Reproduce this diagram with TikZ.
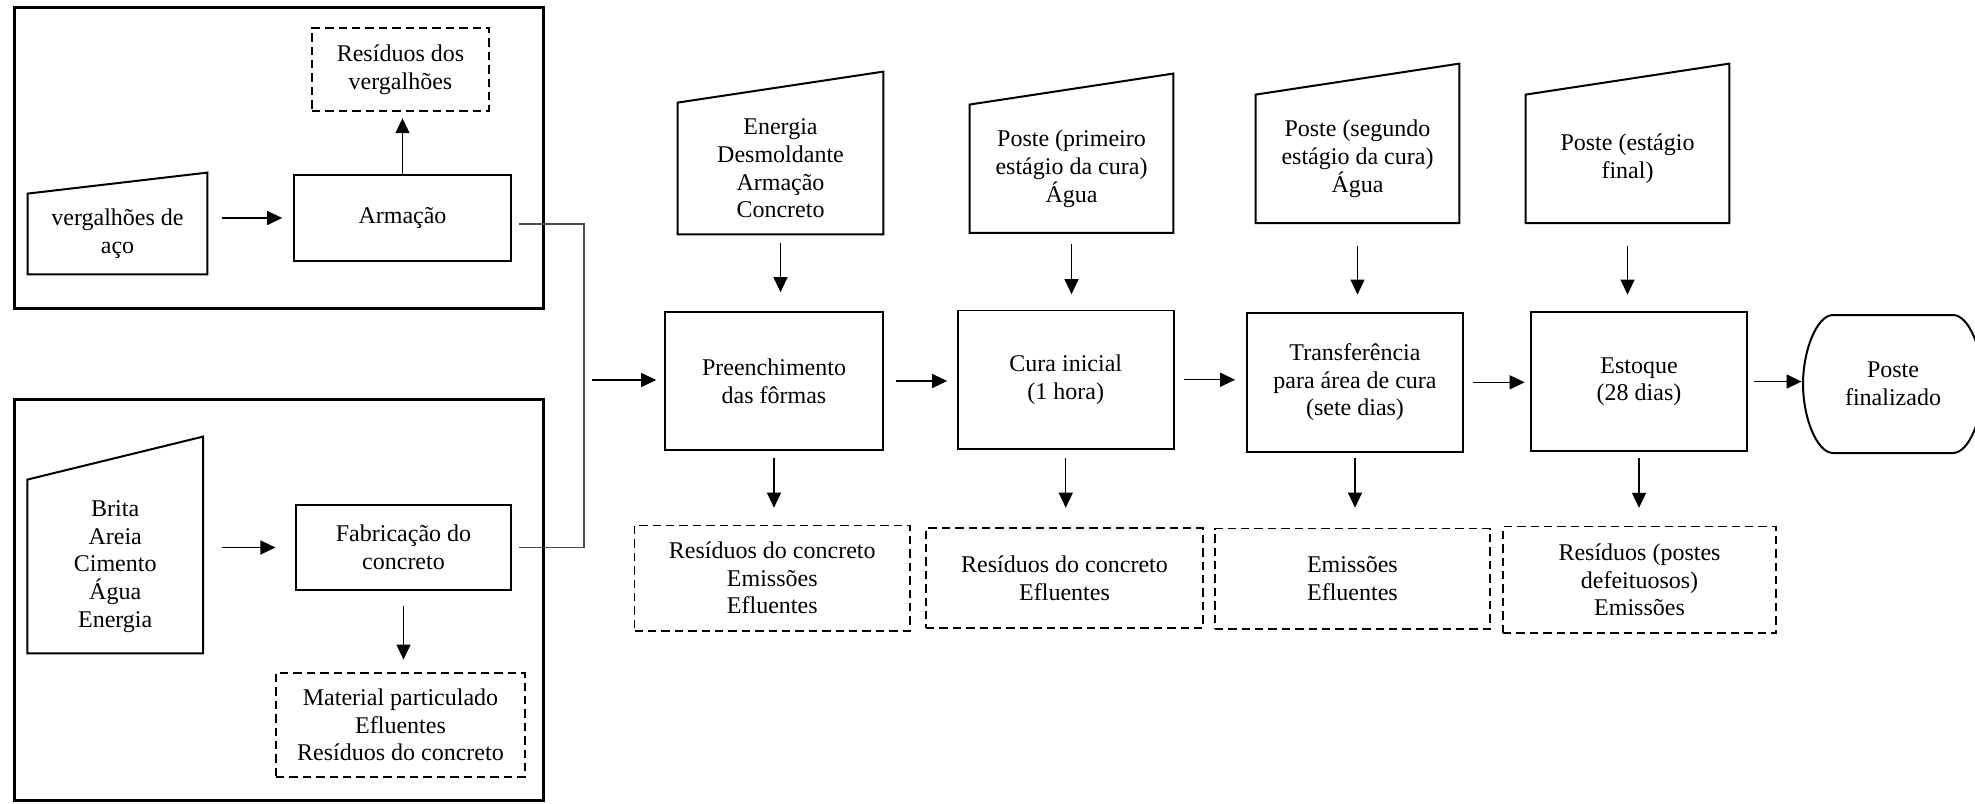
\documentclass[tikz,border=0pt]{standalone}
\usepackage{fontspec}
\setmainfont{Liberation Serif}
\usetikzlibrary{arrows.meta}

\begin{document}
\begin{tikzpicture}[x=0.5pt,y=-0.5pt,line join=miter,>={Triangle[length=7.5pt,width=7pt]},
    texto/.style={font=\fontsize{12}{13.8}\selectfont,align=center,inner sep=0pt},
    processo/.style={texto,draw,line width=0.85pt},
    residuo/.style={texto,draw,line width=0.8pt,dash pattern=on 4.2pt off 2.5pt},
    insumo/.style={texto},
    borda/.style={line width=1pt},
    moldura/.style={line width=1.5pt},
    seta/.style={->,line width=0.6pt},
    ligacao/.style={line width=0.6pt,black!70}]

\useasboundingbox (0,0) rectangle (1975,803);

\begin{scope}
    \draw[moldura] (14,7) rectangle (543,308);
    \node[insumo,minimum width=89.5pt,minimum height=40pt] (verg) at (117.5,234) {vergalhões de\\aço};
    \node[processo,minimum width=108.5pt,minimum height=43pt] (arm) at (402.5,218) {Armação};
    \node[residuo,minimum width=88.5pt,minimum height=41.5pt] (resv) at (400.5,69.5) {Resíduos dos\\vergalhões};
    \draw[seta,shorten <=7.5pt,shorten >=5.5pt] (arm.west -| verg.east) -- (arm.west);
    \draw[seta,shorten >=3.2pt] (arm.north) -- (arm.north |- resv.south);
\end{scope}

\begin{scope}
    \draw[moldura] (14,399) rectangle (543,800);
    \node[insumo,minimum width=87.5pt,minimum height=86.5pt] (brita) at (115.2,566.5) {Brita\\Areia\\Cimento\\Água\\Energia};
    \node[processo,minimum width=107.5pt,minimum height=42.5pt] (fab) at (403.5,547.5) {Fabricação do\\concreto};
    \node[residuo,minimum width=124.5pt,minimum height=52pt] (resc) at (400.5,725) {Material particulado\\Efluentes\\Resíduos do concreto};
    \draw[seta,shorten <=9.6pt,shorten >=9.85pt] (fab.west -| brita.east) -- (fab.west);
    \draw[seta,shorten <=7.5pt,shorten >=6.3pt] (fab.south) -- (fab.south |- resc.north);
\end{scope}

\begin{scope}
    \node[insumo,minimum width=102.5pt,minimum height=65.5pt] (ins1) at (780.5,168.5) {Energia\\Desmoldante\\Armação\\Concreto};
    \node[insumo,minimum width=101.5pt,minimum height=63.75pt] (ins2) at (1071.5,168.7) {Poste (primeiro\\estágio da cura)\\Água};
    \node[insumo,minimum width=101.5pt,minimum height=63.8pt] (ins3) at (1357.5,158.8) {Poste (segundo\\estágio da cura)\\Água};
    \node[insumo,minimum width=101.5pt,minimum height=63.8pt] (ins4) at (1627.5,158.8) {Poste (estágio\\final)};

    \node[processo,minimum width=109pt,minimum height=69pt] (preench) at (774,381) {Preenchimento\\das fôrmas};
    \node[processo,minimum width=108pt,minimum height=69.25pt] (cura) at (1065.75,379.75) {Cura inicial\\(1 hora)};
    \node[processo,minimum width=108pt,minimum height=69.65pt] (transf) at (1355,382.3) {Transferência\\para área de cura\\(sete dias)};
    \node[processo,minimum width=108pt,minimum height=69.5pt] (estoque) at (1639,381.5) {Estoque\\(28 dias)};

    \node[residuo,minimum width=137.75pt,minimum height=52.6pt] (res1) at (772.25,578.1) {Resíduos do concreto\\Emissões\\Efluentes};
    \node[residuo,minimum width=138.5pt,minimum height=50pt] (res2) at (1064.5,578) {Resíduos do concreto\\Efluentes};
    \node[residuo,minimum width=137.6pt,minimum height=50.25pt] (res3) at (1352.4,578.75) {Emissões\\Efluentes};
    \node[residuo,minimum width=136.5pt,minimum height=53.2pt] (res4) at (1639.5,579.8) {Resíduos (postes\\defeituosos)\\Emissões};

    \draw[borda] (1833,315) -- (1953,315) .. controls (1969,315) and (1983,350) .. (1983,384)
        .. controls (1983,418) and (1969,453) .. (1953,453) -- (1833,453)
        .. controls (1817,453) and (1803,418) .. (1803,384)
        .. controls (1803,350) and (1817,315) .. (1833,315) -- cycle;
    \node[texto,minimum width=90pt,minimum height=69pt] (poste) at (1893,384) {Poste\\finalizado};
\end{scope}

\foreach \n/\r in {verg/10.5pt,brita/21.5pt,ins1/15.5pt,ins2/15.5pt,ins3/15.5pt,ins4/15.5pt}
    \draw[borda] (\n.south west) -- (\n.south east) -- ([yshift=\r]\n.north east) -- (\n.north west) -- cycle;

\foreach \a/\b/\s/\t in {ins1/preench/4.5pt/9.5pt,ins2/cura/5.75pt/7.75pt,ins3/transf/11.5pt/8.6pt,ins4/estoque/11.5pt/8.25pt}
    \draw[seta,shorten <=\s,shorten >=\t] (\a.south) -- (\a.south |- \b.north);

\foreach \a/\b/\s/\t in {preench/res1/3.8pt/8.5pt,cura/res2/4.3pt/9.75pt,transf/res3/2.8pt/10pt,estoque/res4/3.3pt/9pt}
    \draw[seta,shorten <=\s,shorten >=\t] (\a.south) -- (\a.south |- \b.north);

\foreach \a/\b/\s/\t in {preench/cura/6pt/4.85pt,cura/transf/4.45pt/5.5pt,transf/estoque/4.5pt/2.75pt,estoque/poste/3pt/0.5pt}
    \draw[seta,shorten <=\s,shorten >=\t] (\a.east) -- (\a.east -| \b.west);

\coordinate (juncao) at (584,380);
\draw[ligacao] ([xshift=3.8pt,yshift=-3pt]arm.east) -| (juncao) |- ([xshift=3.8pt]fab.east);
\draw[seta,shorten <=4pt,shorten >=4pt] (juncao) -- (juncao -| preench.west);

\end{tikzpicture}
\end{document}
